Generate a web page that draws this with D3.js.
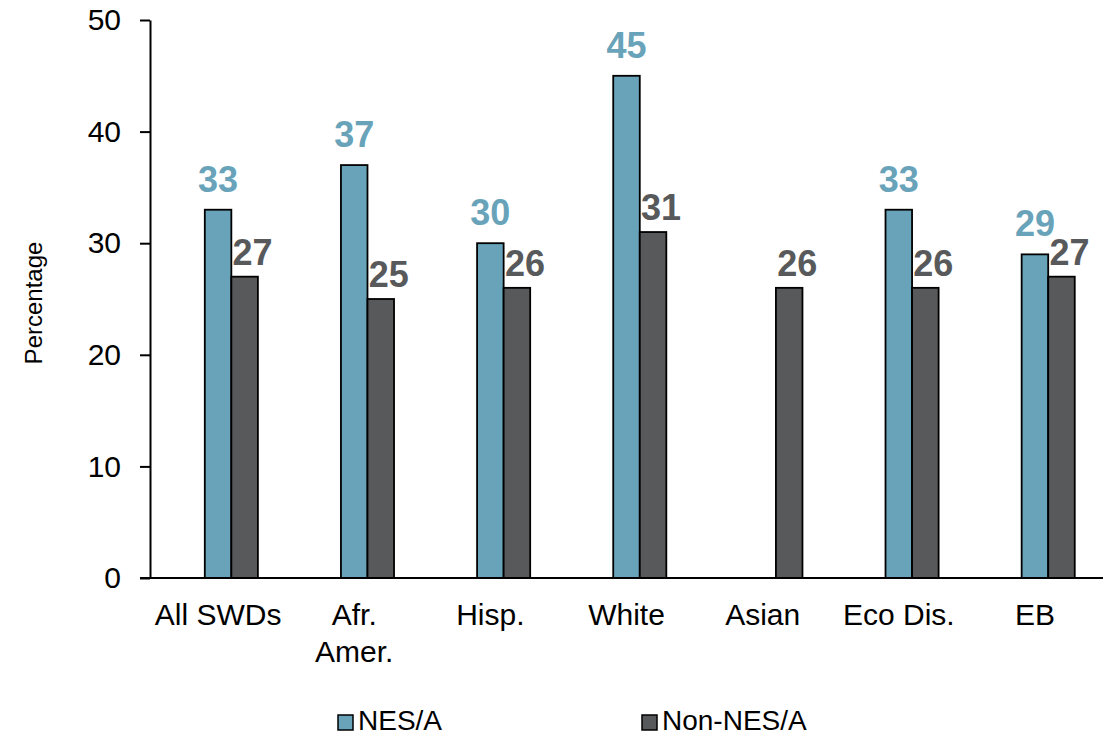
<!DOCTYPE html>
<html>
<head>
<meta charset="utf-8">
<script src="https://cdn.jsdelivr.net/npm/d3@7"></script>
<style>
  html, body { margin: 0; padding: 0; background: #fff; }
  svg { display: block; font-family: Arial, "Liberation Sans", sans-serif; }
</style>
</head>
<body>
<svg id="chart" width="1114" height="736"></svg>
<script>
// Categories (multi-line labels split on "\n")
const categories = ["All SWDs", "Afr.\nAmer.", "Hisp.", "White", "Asian", "Eco Dis.", "EB"];
// Series values (percent); null = not reported
const nesValues    = [33, 37, 30, 45, null, 33, 29];
const nonNesValues = [27, 25, 26, 31, 26, 26, 27];
const seriesNames  = ["NES/A", "Non-NES/A"];
const yTicks       = [0, 10, 20, 30, 40, 50];

const colors = { nes: "#68A3BA", non: "#58595B" };

const svg = d3.select("#chart");
const margin = { top: 20, right: 11, bottom: 158, left: 150 };
const W = 1114, H = 736;
const innerW = W - margin.left - margin.right;
const innerH = H - margin.top - margin.bottom;

const g = svg.append("g").attr("transform", `translate(${margin.left},${margin.top})`);

const x = d3.scaleBand().domain(categories).range([0, innerW]).padding(0);
const y = d3.scaleLinear().domain([0, 50]).range([innerH, 0]);
const barW = x.bandwidth() * 0.195;

// Y axis
const yAxis = g.append("g")
  .call(d3.axisLeft(y).tickValues(yTicks).tickSize(10).tickSizeOuter(0).tickPadding(19));
yAxis.select(".domain").attr("stroke", "#000").attr("stroke-width", 2);
yAxis.selectAll(".tick line").attr("stroke", "#000").attr("stroke-width", 2);
yAxis.selectAll(".tick text").attr("font-size", 30).attr("fill", "#000")
  .attr("font-family", "Arial, 'Liberation Sans', sans-serif");

// Y axis title
g.append("text")
  .attr("transform", `translate(${-108},${y(25) + 4}) rotate(-90)`)
  .attr("text-anchor", "middle")
  .attr("font-size", 24)
  .attr("fill", "#000")
  .text("Percentage");

// Bars
const rows = categories.map((c, i) => ({ c, nes: nesValues[i], non: nonNesValues[i] }));
const center = c => x(c) + x.bandwidth() / 2;

g.selectAll("rect.nes")
  .data(rows.filter(d => d.nes != null))
  .join("rect")
  .attr("class", "nes")
  .attr("x", d => center(d.c) - barW / 2)
  .attr("y", d => y(d.nes))
  .attr("width", barW)
  .attr("height", d => y(0) - y(d.nes))
  .attr("fill", colors.nes)
  .attr("stroke", "#000")
  .attr("stroke-width", 1.8);

g.selectAll("rect.non")
  .data(rows.filter(d => d.non != null))
  .join("rect")
  .attr("class", "non")
  .attr("x", d => center(d.c) + barW / 2)
  .attr("y", d => y(d.non))
  .attr("width", barW)
  .attr("height", d => y(0) - y(d.non))
  .attr("fill", colors.non)
  .attr("stroke", "#000")
  .attr("stroke-width", 1.8);

// Value labels
g.selectAll("text.nesLabel")
  .data(rows.filter(d => d.nes != null))
  .join("text")
  .attr("class", "nesLabel")
  .attr("x", d => center(d.c))
  .attr("y", d => y(d.nes) - 18)
  .attr("text-anchor", "middle")
  .attr("font-size", 36)
  .attr("font-weight", "bold")
  .attr("fill", colors.nes)
  .text(d => d.nes);

g.selectAll("text.nonLabel")
  .data(rows.filter(d => d.non != null))
  .join("text")
  .attr("class", "nonLabel")
  .attr("x", d => center(d.c) + barW + 8)
  .attr("y", d => y(d.non) - 12)
  .attr("text-anchor", "middle")
  .attr("font-size", 36)
  .attr("font-weight", "bold")
  .attr("fill", colors.non)
  .text(d => d.non);

// X axis baseline
g.append("line")
  .attr("x1", -10).attr("x2", innerW)
  .attr("y1", y(0)).attr("y2", y(0))
  .attr("stroke", "#000").attr("stroke-width", 2);

// X category labels
const xl = g.selectAll("text.cat")
  .data(categories)
  .join("text")
  .attr("class", "cat")
  .attr("text-anchor", "middle")
  .attr("font-size", 30)
  .attr("fill", "#000")
  .attr("transform", d => `translate(${center(d)},${innerH + 47})`);
xl.each(function(d) {
  d3.select(this).selectAll("tspan")
    .data(d.split("\n"))
    .join("tspan")
    .attr("x", 0)
    .attr("dy", (t, i) => i === 0 ? 0 : 37)
    .text(t => t);
});

// Legend
const legend = svg.append("g");
const legendItems = [
  { name: seriesNames[0], color: colors.nes, x: 338 },
  { name: seriesNames[1], color: colors.non, x: 642 }
];
const li = legend.selectAll("g").data(legendItems).join("g")
  .attr("transform", d => `translate(${d.x},715)`);
li.append("rect")
  .attr("width", 15).attr("height", 15)
  .attr("fill", d => d.color)
  .attr("stroke", "#000").attr("stroke-width", 1.5);
li.append("text")
  .attr("x", 20).attr("y", 15)
  .attr("font-size", 28)
  .attr("fill", "#000")
  .text(d => d.name);
</script>
</body>
</html>
